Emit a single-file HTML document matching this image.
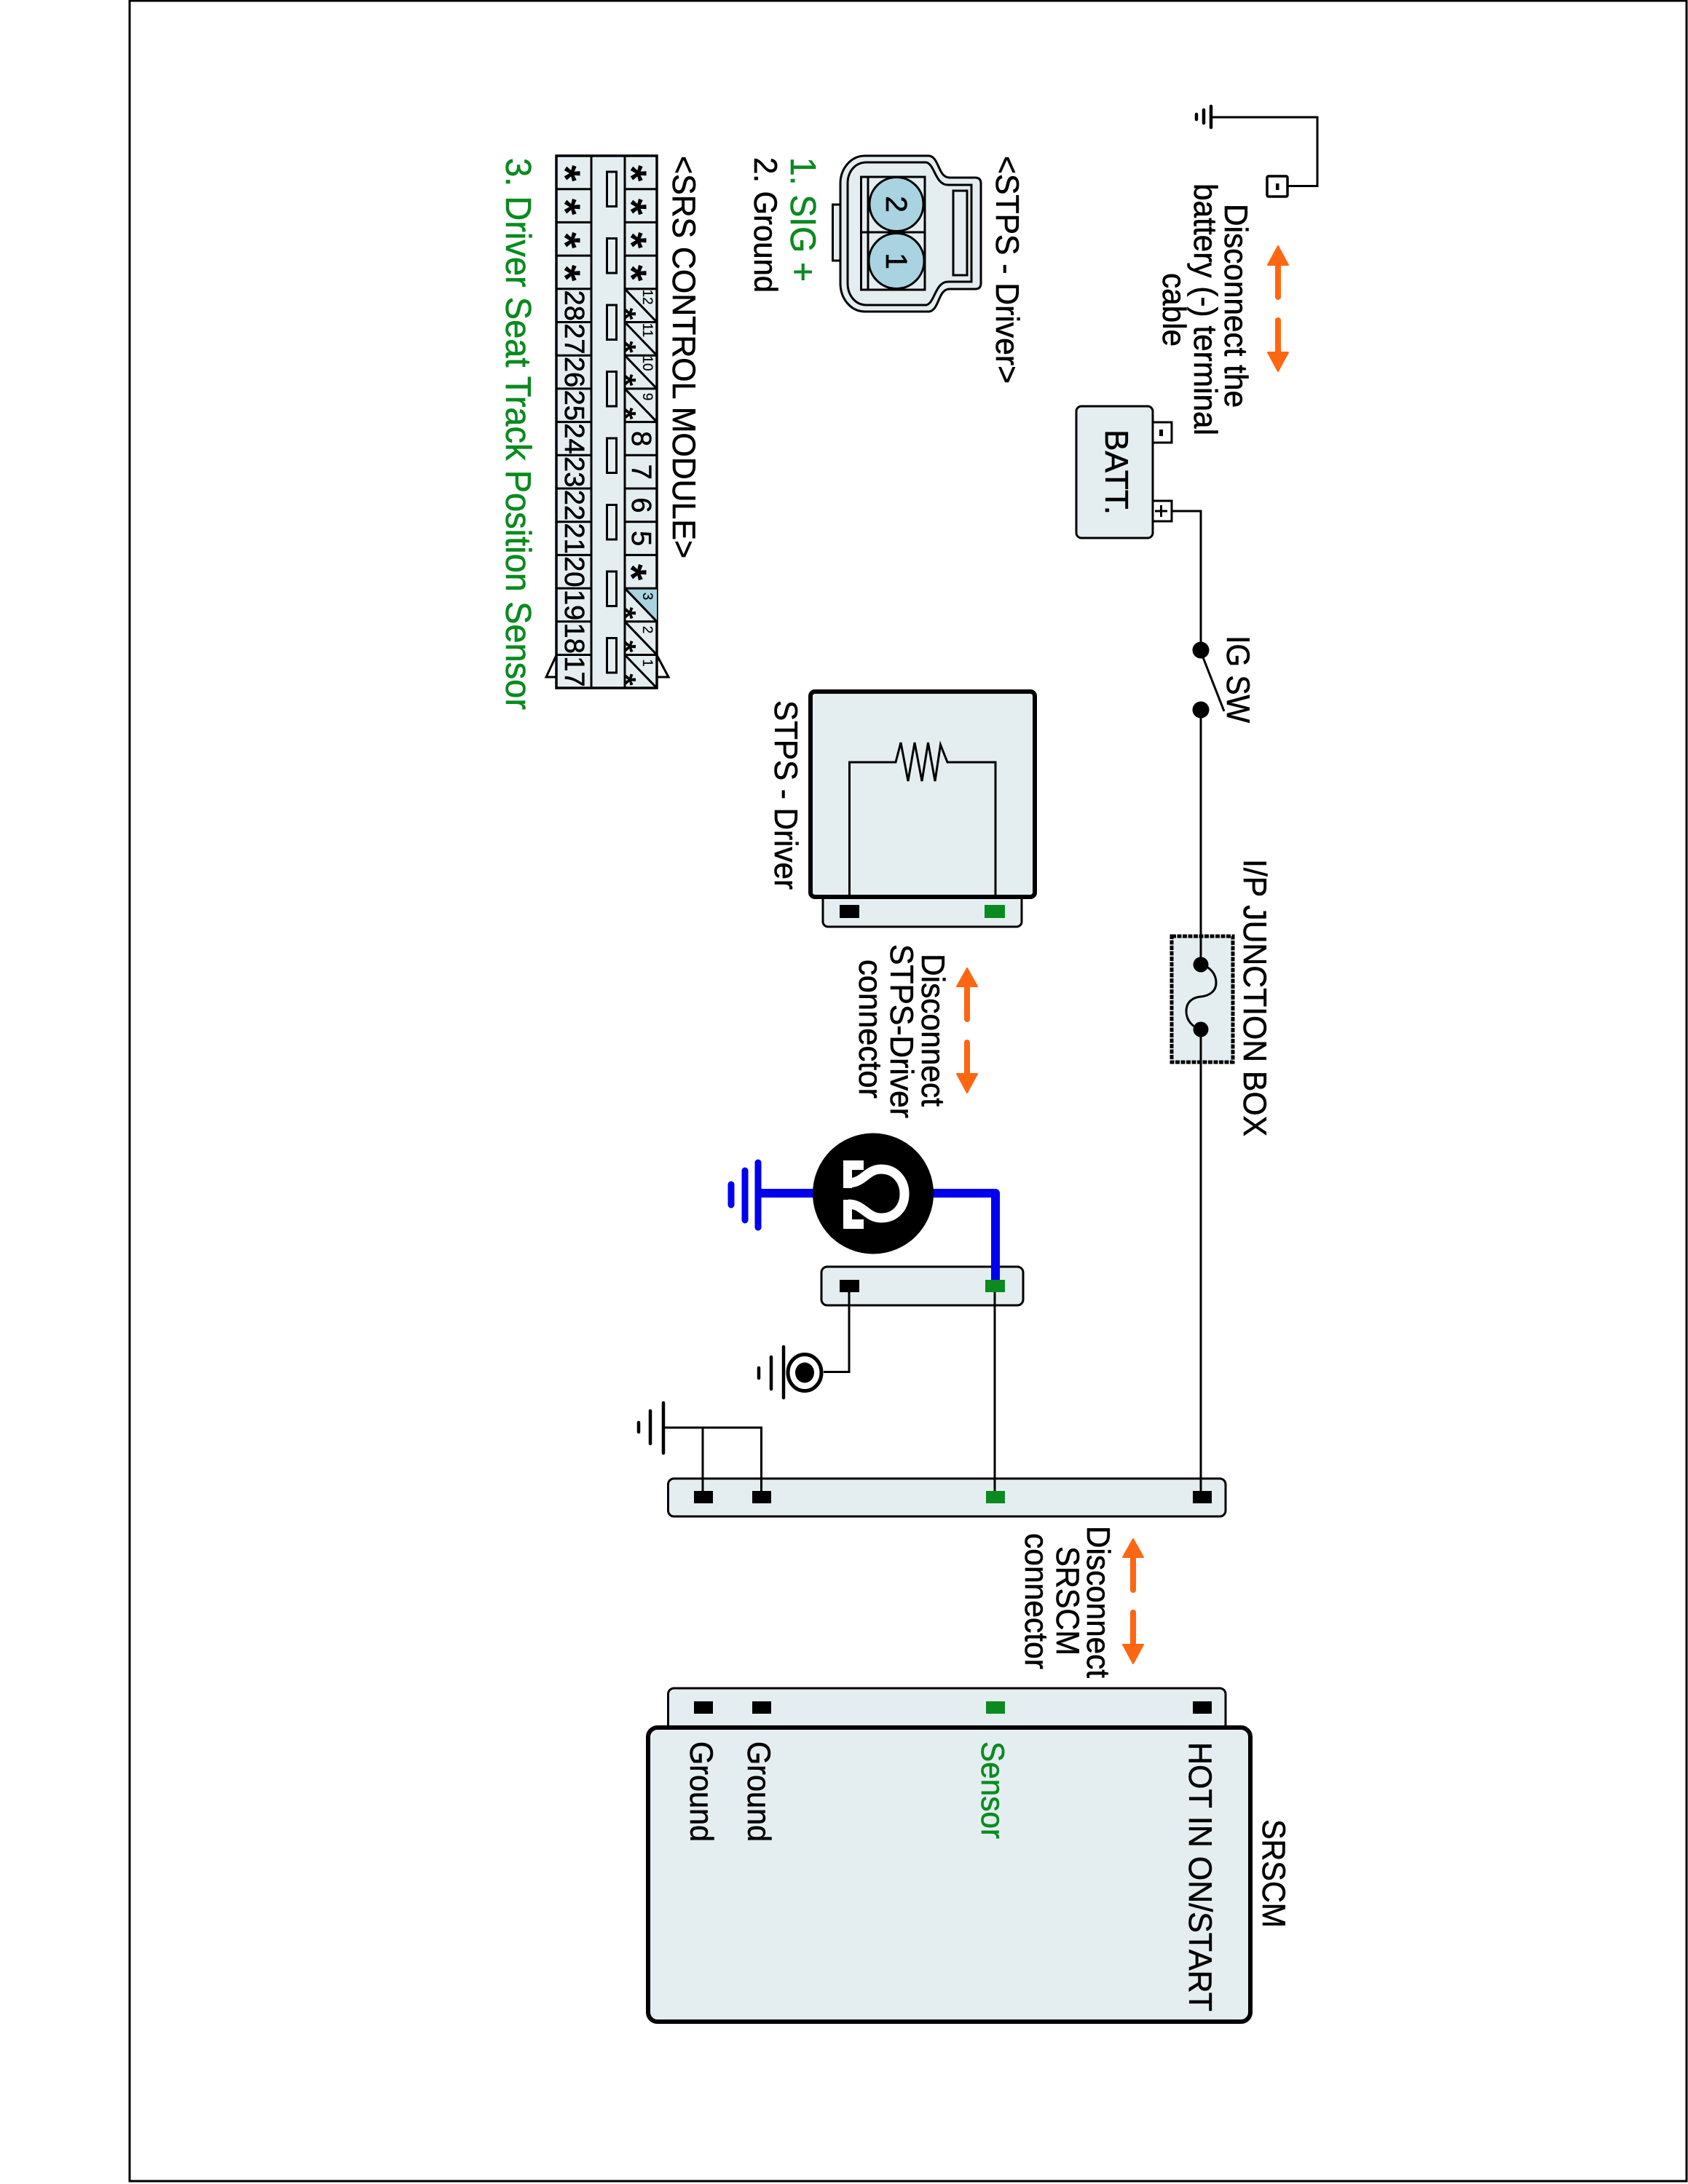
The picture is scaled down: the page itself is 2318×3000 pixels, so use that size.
<!DOCTYPE html>
<html>
<head>
<meta charset="utf-8">
<style>
html,body{margin:0;padding:0;background:#fff;width:2318px;height:3000px;overflow:hidden}
svg{display:block}
text{font-family:"Liberation Sans",sans-serif;fill:#000;stroke:#000;stroke-width:.6;font-size:44.5px}
.g{fill:#0b8a1f;stroke:#0b8a1f}
.w{fill:none;stroke:#000;stroke-width:3}
.box{fill:#e4eef0;stroke:#000;stroke-width:3}
.big{fill:#e4eef0;stroke:#000;stroke-width:6}
.bar{stroke:#000;stroke-width:4.500;stroke-linecap:round}
.bl{stroke:#0000f0;stroke-width:9;stroke-linecap:round}
.c{stroke:#000;stroke-width:3;fill:none}
.n{font-size:38px;text-anchor:middle}
.s{font-size:19px;text-anchor:middle;stroke-width:.2}
.a{font-size:58px;font-weight:bold;text-anchor:middle;stroke-width:0}
.a2{font-size:42px;font-weight:bold;text-anchor:middle;stroke-width:0}
.head{fill:#ff6611;stroke:#ff6611;stroke-width:2;stroke-linejoin:round}
.sh{stroke:#ff6611;stroke-width:8;stroke-linecap:round;fill:none}
</style>
</head>
<body>
<svg xmlns="http://www.w3.org/2000/svg" width="2318" height="3000" viewBox="0 0 2318 3000">
<rect width="2318" height="3000" fill="#fff"/>
<rect x="178" y="1" width="2138" height="2995" fill="none" stroke="#000" stroke-width="3"/>

<!-- top ground -->
<path class="w" d="M1663 161H1809V255.500H1768"/>
<path class="bar" d="M1663 146V175M1653 151V169M1643 157V164"/>
<rect x="1740" y="242" width="28" height="28" rx="2" fill="#fff" stroke="#000" stroke-width="3.500"/>
<rect x="1752" y="252" width="4.500" height="9" fill="#000"/>

<!-- arrow battery -->
<path class="sh" d="M1755 350V408"/><path class="head" d="M1755 338L1769 364H1741Z"/>
<path class="sh" d="M1755 440V498"/><path class="head" d="M1741 484H1769L1755 510Z"/>
<text transform="translate(1682,280) rotate(90)" textLength="280" lengthAdjust="spacingAndGlyphs">Disconnect the</text>
<text transform="translate(1640,252) rotate(90)" textLength="346" lengthAdjust="spacingAndGlyphs">battery (-) terminal</text>
<text transform="translate(1597,375) rotate(90)" textLength="101" lengthAdjust="spacingAndGlyphs">cable</text>

<!-- battery -->
<rect class="box" x="1583" y="580" width="26" height="28" style="fill:#fff"/>
<rect class="box" x="1583" y="688" width="26" height="28" style="fill:#fff"/>
<rect x="1592" y="590" width="5" height="9" fill="#000"/>
<path d="M1586 702H1603M1594.500 694V710" stroke="#000" stroke-width="3" fill="none"/>
<rect class="box" x="1478" y="558" width="105" height="181" rx="7"/>
<text transform="translate(1518,590) rotate(90)" textLength="117" lengthAdjust="spacingAndGlyphs">BATT.</text>

<!-- main wire -->
<path class="w" d="M1609 702H1649V893"/>
<circle cx="1649" cy="893" r="11.500"/>
<circle cx="1649" cy="975" r="11.500"/>
<path d="M1652 903L1681 977" stroke="#000" stroke-width="3" fill="none"/>
<text transform="translate(1685,873) rotate(90)" textLength="120" lengthAdjust="spacingAndGlyphs">IG SW</text>
<rect x="1609" y="1286" width="84" height="173" fill="#e4eef0" stroke="#000" stroke-width="5" stroke-dasharray="6 1.500"/>
<path class="w" d="M1649 975V1325"/>
<path class="w" d="M1649 1414V2048"/>
<circle cx="1649" cy="1325" r="10.500"/>
<circle cx="1649" cy="1414" r="10.500"/>
<path class="w" d="M1649 1325C1662 1328 1670 1338 1670 1350C1670 1362 1660 1368 1649 1369C1638 1370 1629 1376 1629 1389C1629 1401 1637 1411 1649 1414"/>
<text transform="translate(1708,1180) rotate(90)" textLength="381" lengthAdjust="spacingAndGlyphs">I/P JUNCTION BOX</text>

<!-- STPS driver -->
<rect class="box" x="1130" y="1215" width="273" height="58" rx="7"/>
<rect class="big" x="1113" y="950" width="308" height="282" rx="6"/>
<path class="w" d="M1166.500 1232V1047H1230L1237 1020L1247 1073L1256 1020L1266 1073L1274.500 1020L1284 1073L1291.500 1023L1301 1047H1367V1232"/>
<rect x="1153" y="1243" width="27" height="18" fill="#000"/>
<rect x="1352" y="1243" width="28" height="18" fill="#0b8a1f"/>
<text transform="translate(1064,962) rotate(90)" textLength="260" lengthAdjust="spacingAndGlyphs">STPS - Driver</text>

<!-- arrow STPS -->
<path class="sh" d="M1328 1342V1400"/><path class="head" d="M1328 1330L1342 1355H1314Z"/>
<path class="sh" d="M1328 1432V1490"/><path class="head" d="M1314 1475H1342L1328 1501Z"/>
<text transform="translate(1266,1310) rotate(90)" textLength="210" lengthAdjust="spacingAndGlyphs">Disconnect</text>
<text transform="translate(1223,1297) rotate(90)" textLength="239" lengthAdjust="spacingAndGlyphs">STPS-Driver</text>
<text transform="translate(1180,1318) rotate(90)" textLength="191" lengthAdjust="spacingAndGlyphs">connector</text>

<!-- motor / blue -->
<path d="M1042 1639H1367V1759" fill="none" stroke="#0000f0" stroke-width="12" stroke-linejoin="round"/>
<path class="bl" d="M1041 1597V1686M1023 1608V1676M1004 1627V1655"/>
<circle cx="1199" cy="1639.500" r="83"/>
<path d="M1165 1625C1186 1625 1190 1606 1210 1606C1230 1606 1242 1622 1242 1640C1242 1658 1230 1673 1210 1673C1190 1673 1186 1654 1165 1654" fill="none" stroke="#fff" stroke-width="13"/>
<path d="M1158 1594H1186V1607H1170V1632H1158Z" fill="#fff"/>
<path d="M1158 1688H1186V1675H1170V1648H1158Z" fill="#fff"/>

<!-- middle connector -->
<rect class="box" x="1128" y="1740" width="277" height="53" rx="8"/>
<path class="w" d="M1366 1775V2048"/>
<path class="w" d="M1166 1775V1884.500H1131"/>
<rect x="1153" y="1758" width="27" height="17" fill="#000"/>
<rect x="1353" y="1758" width="27" height="17" fill="#0b8a1f"/>
<path d="M1367 1738V1758" stroke="#0000f0" stroke-width="12"/>
<ellipse cx="1105" cy="1885.500" rx="23" ry="25" fill="#fff" stroke="#000" stroke-width="5"/>
<ellipse cx="1105" cy="1885.500" rx="13" ry="14"/>
<path class="bar" d="M1076 1850V1920M1059 1864V1908M1042 1879V1893"/>

<!-- ground 3 -->
<path class="w" d="M911 1961H1045.500V2048M965 1961V2048"/>
<path class="bar" d="M911 1927V1996M893 1938V1983M877 1954V1967"/>

<!-- long connector -->
<rect class="box" x="917.500" y="2031" width="765.500" height="52" rx="8"/>
<path class="w" d="M1366 2031V2048M1649 2031V2048M965 2031V2048M1045.500 2031V2048"/>
<rect x="953" y="2048" width="26" height="17" fill="#000"/>
<rect x="1033" y="2048" width="26" height="17" fill="#000"/>
<rect x="1354" y="2048" width="26" height="17" fill="#0b8a1f"/>
<rect x="1638" y="2048" width="26" height="17" fill="#000"/>

<!-- arrow SRSCM -->
<path class="sh" d="M1556 2126V2184"/><path class="head" d="M1556 2114L1570 2139H1542Z"/>
<path class="sh" d="M1556 2215V2273"/><path class="head" d="M1542 2259H1570L1556 2285Z"/>
<text transform="translate(1493,2096) rotate(90)" textLength="209" lengthAdjust="spacingAndGlyphs">Disconnect</text>
<text transform="translate(1451,2124) rotate(90)" textLength="150" lengthAdjust="spacingAndGlyphs">SRSCM</text>
<text transform="translate(1408,2106) rotate(90)" textLength="187" lengthAdjust="spacingAndGlyphs">connector</text>

<!-- SRSCM -->
<rect class="box" x="917.500" y="2319" width="765.500" height="70" rx="8"/>
<rect x="953" y="2337" width="26" height="17" fill="#000"/>
<rect x="1033" y="2337" width="26" height="17" fill="#000"/>
<rect x="1354" y="2337" width="26" height="17" fill="#0b8a1f"/>
<rect x="1638" y="2337" width="26" height="17" fill="#000"/>
<rect class="big" x="890" y="2373" width="827" height="404" rx="13"/>
<text transform="translate(948,2392) rotate(90)" textLength="138" lengthAdjust="spacingAndGlyphs">Ground</text>
<text transform="translate(1027,2392) rotate(90)" textLength="138" lengthAdjust="spacingAndGlyphs">Ground</text>
<text class="g" transform="translate(1348,2392) rotate(90)" textLength="134" lengthAdjust="spacingAndGlyphs">Sensor</text>
<text transform="translate(1633,2393) rotate(90)" textLength="370" lengthAdjust="spacingAndGlyphs">HOT IN ON/START</text>
<text transform="translate(1734,2499) rotate(90)" textLength="149" lengthAdjust="spacingAndGlyphs">SRSCM</text>

<!-- STPS connector view -->
<text transform="translate(1368,214) rotate(90)" textLength="313" lengthAdjust="spacingAndGlyphs">&lt;STPS - Driver&gt;</text>
<rect class="c" x="1143.500" y="281" width="11" height="77" style="fill:#e4eef0"/>
<path class="c" style="fill:#e4eef0" d="M1188 214H1276C1290 216 1288 244 1304 244H1339Q1347 244 1347 252V389Q1347 397 1339 397H1304C1288 397 1290 426 1276 428H1188C1168 428 1154 410 1154 389V252C1154 232 1168 214 1188 214Z"/>
<path class="c" d="M1190 223H1272C1284 226 1284 254 1302 254H1334V387H1302C1284 387 1284 416 1272 419H1190C1174 419 1164 405 1164 389V252C1164 236 1174 223 1190 223Z"/>
<rect class="c" x="1309" y="262" width="19" height="116"/>
<rect class="c" x="1182.500" y="243" width="87.500" height="155"/>
<path class="c" d="M1192 243V398M1182.500 319H1270"/>
<circle cx="1231" cy="280.500" r="37" fill="#a9d3e0" stroke="#000" stroke-width="3"/>
<circle cx="1231" cy="358.500" r="38" fill="#a9d3e0" stroke="#000" stroke-width="3"/>
<text transform="translate(1217,280.500) rotate(90)" text-anchor="middle" style="font-size:41px">2</text>
<text transform="translate(1217,358.500) rotate(90)" text-anchor="middle" style="font-size:41px">1</text>
<text class="g" transform="translate(1086,216) rotate(90)" textLength="171" lengthAdjust="spacingAndGlyphs" style="font-size:49px">1. SIG +</text>
<text transform="translate(1036,216) rotate(90)" textLength="186" lengthAdjust="spacingAndGlyphs">2. Ground</text>

<!-- SRS control module connector -->
<text transform="translate(924,214) rotate(90)" textLength="553" lengthAdjust="spacingAndGlyphs">&lt;SRS CONTROL MODULE&gt;</text>
<path class="c" d="M764 900L750 930H764M902 900L918 930H902"/>
<rect x="764" y="214" width="138" height="731" fill="#e4eef0" stroke="#000" stroke-width="3.500"/>
<path fill="#a9d3e0" d="M858 808.100H902V853.800Z"/>
<path class="c" d="M812 214V945M858 214V945"/>
<path class="c" d="M764 259.700H812M764 305.400H812M764 351.100H812M764 396.800H812M764 442.500H812M764 488.200H812M764 533.900H812M764 579.600H812M764 625.300H812M764 671H812M764 716.700H812M764 762.400H812M764 808.100H812M764 853.800H812M764 899.500H812"/>
<path class="c" d="M858 259.700H902M858 305.400H902M858 351.100H902M858 396.800H902M858 442.500H902M858 488.200H902M858 533.900H902M858 579.600H902M858 625.300H902M858 671H902M858 716.700H902M858 762.400H902M858 808.100H902M858 853.800H902M858 899.500H902"/>
<path class="c" d="M858 396.800L902 442.500M858 442.500L902 488.200M858 488.200L902 533.900M858 533.900L902 579.600M858 808.100L902 853.800M858 853.800L902 899.500M858 899.500L902 945.200"/>
<g class="c">
<rect x="833.500" y="236" width="13" height="47.500"/>
<rect x="833.500" y="327.500" width="13" height="47.500"/>
<rect x="833.500" y="419" width="13" height="47.500"/>
<rect x="833.500" y="510.500" width="13" height="47.500"/>
<rect x="833.500" y="602" width="13" height="47.500"/>
<rect x="833.500" y="693.500" width="13" height="47.500"/>
<rect x="833.500" y="785" width="13" height="47.500"/>
<rect x="833.500" y="876.500" width="13" height="47.500"/>
</g>
<text class="a" transform="translate(756,238) rotate(90)">*</text>
<text class="a" transform="translate(756,284) rotate(90)">*</text>
<text class="a" transform="translate(756,330) rotate(90)">*</text>
<text class="a" transform="translate(756,375) rotate(90)">*</text>
<text class="a" transform="translate(847,238) rotate(90)">*</text>
<text class="a" transform="translate(847,284) rotate(90)">*</text>
<text class="a" transform="translate(847,330) rotate(90)">*</text>
<text class="a" transform="translate(847,375) rotate(90)">*</text>
<text class="a" transform="translate(847,786) rotate(90)">*</text>
<text class="n" transform="translate(776,419.700) rotate(90)">28</text>
<text class="n" transform="translate(776,465.400) rotate(90)">27</text>
<text class="n" transform="translate(776,511) rotate(90)">26</text>
<text class="n" transform="translate(776,556.800) rotate(90)">25</text>
<text class="n" transform="translate(776,602.500) rotate(90)">24</text>
<text class="n" transform="translate(776,648.200) rotate(90)">23</text>
<text class="n" transform="translate(776,693.900) rotate(90)">22</text>
<text class="n" transform="translate(776,739.600) rotate(90)">21</text>
<text class="n" transform="translate(776,785.300) rotate(90)">20</text>
<text class="n" transform="translate(776,831) rotate(90)">19</text>
<text class="n" transform="translate(776,876.700) rotate(90)">18</text>
<text class="n" transform="translate(776,922.400) rotate(90)">17</text>
<text class="n" transform="translate(868,602.500) rotate(90)">8</text>
<text class="n" transform="translate(868,648.200) rotate(90)">7</text>
<text class="n" transform="translate(868,693.900) rotate(90)">6</text>
<text class="n" transform="translate(868,739.600) rotate(90)">5</text>
<text class="s" transform="translate(883,408) rotate(90)">12</text>
<text class="s" transform="translate(883,453.500) rotate(90)">11</text>
<text class="s" transform="translate(883,499) rotate(90)">10</text>
<text class="s" transform="translate(883,545) rotate(90)">9</text>
<text class="s" transform="translate(883,819) rotate(90)">3</text>
<text class="s" transform="translate(883,865) rotate(90)">2</text>
<text class="s" transform="translate(883,910.500) rotate(90)">1</text>
<text class="a2" transform="translate(844,431) rotate(90)">*</text>
<text class="a2" transform="translate(844,476.500) rotate(90)">*</text>
<text class="a2" transform="translate(844,522) rotate(90)">*</text>
<text class="a2" transform="translate(844,568) rotate(90)">*</text>
<text class="a2" transform="translate(844,842) rotate(90)">*</text>
<text class="a2" transform="translate(844,888) rotate(90)">*</text>
<text class="a2" transform="translate(844,933.500) rotate(90)">*</text>

<text class="g" transform="translate(695,217) rotate(90)" textLength="758" lengthAdjust="spacingAndGlyphs" style="font-size:49px">3. Driver Seat Track Position Sensor</text>
</svg>
</body>
</html>
